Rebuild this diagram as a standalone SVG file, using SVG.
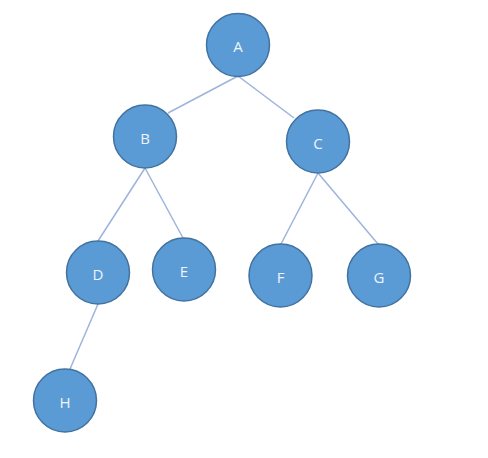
<svg xmlns="http://www.w3.org/2000/svg" width="488" height="458" viewBox="0 0 488 458">
<style>
.edge{stroke:#9db4dc;stroke-width:1.5;fill:none}
.node circle{fill:#5b9bd5;stroke:#4272a0;stroke-width:1.5}
.node text{fill:#eef4fb;font-family:"Open Sans","Liberation Sans",sans-serif;font-size:15px;text-anchor:middle;dominant-baseline:central}
</style>
<rect width="488" height="458" fill="#ffffff"/>
<g id="connectors">
<line class="edge" x1="238" y1="76" x2="168" y2="113"/>
<line class="edge" x1="238" y1="76" x2="294" y2="118"/>
<line class="edge" x1="145" y1="168" x2="98" y2="241"/>
<line class="edge" x1="145" y1="168" x2="183" y2="238"/>
<line class="edge" x1="318" y1="173" x2="281" y2="244"/>
<line class="edge" x1="318" y1="173" x2="378" y2="244"/>
<line class="edge" x1="98" y1="304" x2="70" y2="369"/>
</g>
<g id="A" class="node"><circle cx="238" cy="45" r="31.5"/><text x="238" y="46">A</text></g>
<g id="B" class="node"><circle cx="145" cy="136.5" r="31.5"/><text x="145" y="138">B</text></g>
<g id="C" class="node"><circle cx="318" cy="141.5" r="31.5"/><text x="318" y="143">C</text></g>
<g id="D" class="node"><circle cx="98" cy="272.5" r="31.5"/><text x="98" y="274">D</text></g>
<g id="E" class="node"><circle cx="184" cy="269.5" r="31.5"/><text x="184" y="271">E</text></g>
<g id="F" class="node"><circle cx="280.5" cy="275.5" r="31.5"/><text x="280.5" y="277">F</text></g>
<g id="G" class="node"><circle cx="379" cy="275.5" r="31.5"/><text x="379" y="277">G</text></g>
<g id="H" class="node"><circle cx="65" cy="400.5" r="31.5"/><text x="65" y="402">H</text></g>
</svg>
